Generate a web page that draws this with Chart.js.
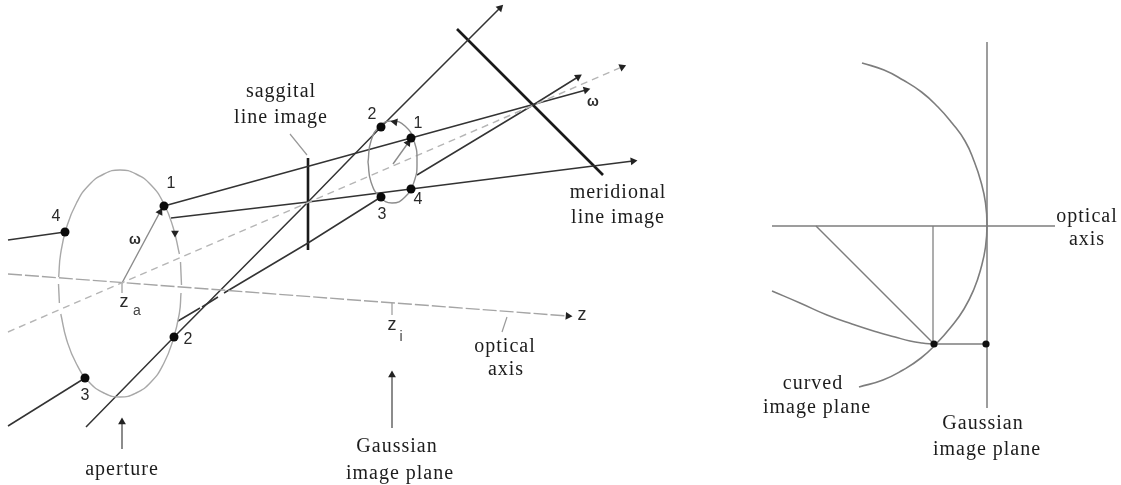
<!DOCTYPE html>
<html>
<head>
<meta charset="utf-8">
<title>Astigmatism and field curvature</title>
<script src="https://cdn.jsdelivr.net/npm/chart.js@4/dist/chart.umd.min.js"></script>
<style>
    html, body { margin: 0; padding: 0; background: #fff; overflow: hidden; }
    canvas { display: block; }
</style>
</head>
<body>
<canvas id="diagram" width="1121" height="485"></canvas>
<script>
const apertureRim = [
    [58.5,284],[59.4,303],null,[60.8,314],[66.7,340],[76.5,364],[89,382],[104,393],[120,397],
    [136,393],[151,382],[163.5,364],[173,340],[179.4,313],[181,293],null,[181.5,285],[180.5,262],null,
    [179.4,254],[173,227],[163.5,203],[151,185],[136,174],[120,170],
    [104,174],[89,185],[76.5,203],[66.7,227],[60.6,254],[58.7,277]
];
const imageEllipse = [[368,162],[371,182],[380,197],[392,203],[405,197],[414,182],[417,162],[414,141],[405,126],[392,121],[380,126],[371,141],[368,162]];

const ray1 = [[164,206],[411,138],[586,90]];
const ray1Lower = [[171,218],[308,202],[411,189],[633,161]];
const ray2 = [[86,427],[174,337],[308,202],[381,127],[500,8]];
const ray3 = [[8,426],[85,378]];
const ray3Dashes = [[178,321],[200,308],null,[202,307],[218,297],null,[224,293],[308,243],[381,197],null,[417,175],[533,105],[578,77]];
const ray4 = [[8,240],[65,232]];
const chiefRay = [[8,332],[622,67]];
const opticalAxis = [[8,274],[568,316]];

const sagittalLine = [[308,158],[308,250]];
const meridionalLine = [[457,29],[603,175]];

const omegaLeft = [[122,283],[160,212]];
const omegaRight = [[393,164],[408,143]];
const thinMarks = [[122,283],[122,293],null,[392,303],[392,315],null,[507,317],[502,332],null,[290,134],[307,155]];
const apertureArrow = [[122,449],[122,422]];
const gaussianArrow = [[392,428],[392,375]];

const rayPoints = [[164,206],[65,232],[85,378],[174,337],[381,127],[411,138],[381,197],[411,189]];

const focalVertical = [[987,42],[987,408]];
const focalAxis = [[772,226],[1055,226]];
const curvedPlane = [
    [862,63],[884,70],[903,80],[921.5,92],[938,107],[952,123],[965,141],[974,161],[981,182],[985.5,203],[987,225],
    [985.5,247],[981,268],[974,289],[964,309],[951,327],[936,344],[921,358],[903,370],[883,380],[859,387]
];
const focalDiagonal = [[816,226],[934,344]];
const focalDrop = [[933,226],[933,344]];
const focalRay = [[772,291],[800,303],[827,315],[852,324],[877,332],[895,337],[910,341],[922,343],[934,344]];
const focalStep = [[934,344],[986,344]];
const focalPoints = [[934,344],[986,344]];

// [text, x, y]
const serifLabels = [
    ['saggital', 281, 92], ['line image', 281, 118],
    ['meridional', 618, 193], ['line image', 618, 218],
    ['aperture', 122, 470],
    ['Gaussian', 397, 447], ['image plane', 400, 474],
    ['optical', 505, 347], ['axis', 506, 370],
    ['optical', 1087, 217], ['axis', 1087, 240],
    ['curved', 813, 384], ['image plane', 817, 408],
    ['Gaussian', 983, 424], ['image plane', 987, 450]
];
const digitLabels = [
    ['1', 171, 184], ['2', 188, 340], ['3', 85, 396], ['4', 56, 217],
    ['2', 372, 115], ['1', 418, 124], ['3', 382, 215], ['4', 418, 200]
];
const omegaLabels = [['ω', 135, 240], ['ω', 593, 102]];
const zLabels = [['z', 124, 302], ['z', 392, 325], ['z', 582, 315]];
const subscriptLabels = [['a', 137, 311], ['i', 401, 337]];

// small arrowheads sitting on the ellipses, [x, y, rotation]
const ellipseHeads = [[175,233,180],[395,122,-80]];

const toXY = (list) => list.map(p => p ? { x: p[0], y: p[1] } : { x: null, y: null });

function line(points, color, width, extra) {
    return Object.assign({
        data: toXY(points),
        borderColor: color,
        borderWidth: width,
        pointRadius: 0,
        showLine: true,
        spanGaps: false,
        fill: false
    }, extra || {});
}

function smooth(points, color, width) {
    return line(points, color, width, { tension: 0.5 });
}

function dots(points, radius, color) {
    return {
        data: toXY(points),
        showLine: false,
        order: -2,
        pointStyle: 'circle',
        pointRadius: radius,
        pointBackgroundColor: color,
        pointBorderWidth: 0
    };
}

// Triangle at the end of a line, turned along its last stretch
function headOf(points, color, radius) {
    const a = points[points.length - 2];
    const b = points[points.length - 1];
    const angle = Math.atan2(b[0] - a[0], a[1] - b[1]) * 180 / Math.PI;
    return {
        data: toXY([b]),
        showLine: false,
        order: -1,
        pointStyle: 'triangle',
        pointRadius: radius,
        pointRotation: angle,
        pointBackgroundColor: color,
        pointBorderWidth: 0
    };
}

const textPlugin = {
    id: 'diagramText',
    afterDatasetsDraw(chart) {
        const { ctx, scales } = chart;
        const put = (labels, font, color, spacing) => {
            ctx.font = font;
            ctx.fillStyle = color;
            ctx.textAlign = 'center';
            ctx.textBaseline = 'middle';
            ctx.letterSpacing = spacing || '0px';
            labels.forEach(([text, x, y]) => {
                ctx.fillText(text, scales.x.getPixelForValue(x), scales.y.getPixelForValue(y));
            });
        };
        ctx.save();
        put(serifLabels, '20px "Liberation Serif"', '#1c1c1c', '1px');
        put(digitLabels, '16px "Liberation Sans"', '#2a2a2a');
        put(omegaLabels, 'bold 14px "Liberation Sans"', '#2a2a2a');
        put(zLabels, '18px "Liberation Sans"', '#2a2a2a');
        put(subscriptLabels, '14px "Liberation Sans"', '#444');
        ctx.restore();
    }
};

const dark = '#333333';
const grey = '#9a9a9a';
const planeGrey = '#7d7d7d';

new Chart(document.getElementById('diagram'), {
    type: 'scatter',
    data: {
        datasets: [
            smooth(apertureRim, '#a8a8a8', 1.4),
            smooth(imageEllipse, '#8c8c8c', 1.4),
            line(chiefRay, '#b5b5b5', 1.4, { borderDash: [7, 5] }),
            line(opticalAxis, '#a5a5a5', 1.4, { borderDash: [14, 3] }),
            line(ray1, dark, 1.5),
            line(ray1Lower, dark, 1.5),
            line(ray2, dark, 1.5),
            line(ray3, dark, 1.5),
            line(ray3Dashes, dark, 1.5),
            line(ray4, dark, 1.5),
            line(sagittalLine, '#1a1a1a', 2.6),
            line(meridionalLine, '#1a1a1a', 2.6),
            line(omegaLeft, '#8a8a8a', 1.4),
            line(omegaRight, '#8a8a8a', 1.4),
            line(thinMarks, grey, 1.2),
            line(apertureArrow, '#666', 1.5),
            line(gaussianArrow, '#666', 1.5),
            headOf(ray1, '#222', 4.5),
            headOf(ray1Lower, '#222', 4.5),
            headOf(ray2, '#222', 4.5),
            headOf(ray3Dashes, '#222', 4.5),
            headOf(chiefRay, '#222', 4.5),
            headOf(opticalAxis, '#222', 4.5),
            headOf(omegaLeft, '#222', 4.5),
            headOf(omegaRight, '#222', 4.5),
            headOf(apertureArrow, '#222', 4.5),
            headOf(gaussianArrow, '#222', 4.5),
            {
                data: ellipseHeads.map(h => ({ x: h[0], y: h[1] })),
                showLine: false,
                order: -1,
                pointStyle: 'triangle',
                pointRadius: 4.5,
                pointRotation: ellipseHeads.map(h => h[2]),
                pointBackgroundColor: '#222',
                pointBorderWidth: 0
            },
            dots(rayPoints, 4.5, '#0a0a0a'),
            line(focalVertical, planeGrey, 1.5),
            line(focalAxis, planeGrey, 1.5),
            smooth(curvedPlane, planeGrey, 1.6),
            line(focalDiagonal, planeGrey, 1.5),
            line(focalDrop, '#999', 1.6),
            smooth(focalRay, planeGrey, 1.5),
            line(focalStep, planeGrey, 1.5),
            dots(focalPoints, 3.6, '#111')
        ]
    },
    options: {
        responsive: false,
        animation: false,
        events: [],
        layout: { padding: 0, autoPadding: false },
        plugins: { legend: { display: false }, tooltip: { enabled: false } },
        scales: {
            x: { type: 'linear', display: false, min: 0, max: 1121 },
            y: { type: 'linear', display: false, min: 0, max: 485, reverse: true }
        }
    },
    plugins: [textPlugin]
});
</script>
</body>
</html>
